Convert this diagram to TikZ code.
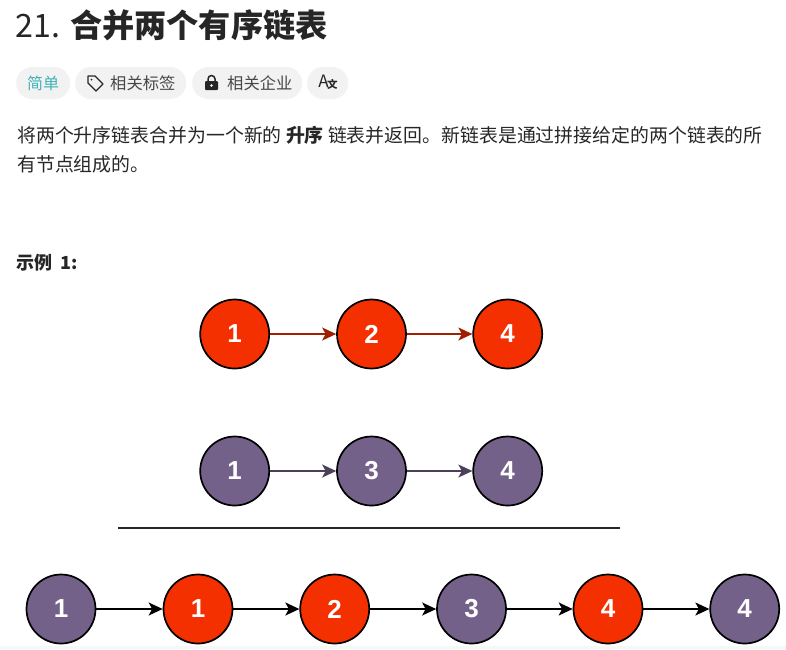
\documentclass[tikz,border=0pt]{standalone}
\usepackage{fontspec}
\setmainfont{Noto Sans CJK SC}
\newfontfamily\digitfont{Liberation Sans}
\usetikzlibrary{arrows.meta}
\definecolor{listred}{HTML}{F53000}
\definecolor{listpurple}{HTML}{74618A}
\definecolor{pillgray}{HTML}{F2F2F2}
\definecolor{inkdark}{HTML}{262626}
\definecolor{easyteal}{HTML}{3FB3B8}

\begin{document}
\begin{tikzpicture}[
    x=1pt,y=-1pt,
    listnode/.style={circle,draw=black,line width=1.7pt,minimum size=69pt,inner sep=0pt,text=white,font=\fontsize{26}{26}\selectfont\digitfont\bfseries},
    rednode/.style={listnode,fill=listred},
    purplenode/.style={listnode,fill=listpurple},
    link/.style={line width=1.4pt,-{Stealth[length=14pt,width=13pt,inset=3.5pt]}},
    pill/.style={fill=pillgray,rounded corners=15.9pt,minimum height=32pt,inner sep=0pt,anchor=west},
    pilltext/.style={anchor=west,inner sep=0pt,text=inkdark!85,font=\fontsize{16.3}{16.3}\selectfont},
    textline/.style={anchor=base west,inner sep=0pt,text=inkdark,font=\fontsize{18.9}{18.9}\selectfont}
]
\useasboundingbox (0,0) rectangle (786,649);

% Bottom strip
\fill[pillgray!60] (0,646) rectangle (786,649);

% Title
\node[anchor=base west,inner sep=0pt,text=inkdark,font=\fontsize{32.2}{32.2}\selectfont] (title) at (15.5,37) {21. \textbf{合并两个有序链表}};

% Tags
\node[pill,minimum width=54pt,text=easyteal,font=\fontsize{16}{16}\selectfont] (easy) at (16,83) {简单};
\node[pill,minimum width=111pt] (tags) at (75,83) {};
\node[pill,minimum width=110pt] (firms) at (192,83) {};
\node[pill,minimum width=41pt] (lang) at (307,83) {};
\node[pilltext] (tagstext) at (110,83.5) {相关标签};
\node[pilltext] (firmstext) at (227,83.5) {相关企业};
\node[anchor=center,inner sep=0pt,text=inkdark,font=\fontsize{17}{17}\selectfont] (langtext) at (328,82.5) {A\kern-1.5pt\raisebox{-1.5pt}{\fontsize{10.5}{10.5}\selectfont\bfseries 文}};

% Tag icon
\draw[line width=1.4pt,inkdark,line join=round] (88,76) -- (95,76) -- (103,84) -- (96,91) -- (88,83) -- cycle;
\fill[inkdark] (91.5,79.5) circle (1pt);

% Lock icon
\fill[inkdark,rounded corners=1pt] (205,81) rectangle (218,90);
\draw[line width=1.5pt,inkdark] (208,81) -- (208,79) arc[start angle=180,end angle=0,radius=3.5pt] -- (215,81);
\fill[white] (211.5,85.5) circle (1.3pt);

% Description
\node[textline] (desc1) at (17,142.5) {将两个升序链表合并为一个新的 \textbf{升序} 链表并返回。新链表是通过拼接给定的两个链表的所};
\node[textline] (desc2) at (17,171.5) {有节点组成的。};
\node[textline,font=\fontsize{18}{18}\selectfont\bfseries] (example) at (16,269) {示例\ \ 1:};

% First list
\node[rednode] (A1) at (234.7,334) {1};
\node[rednode] (A2) at (371.5,334) {2};
\node[rednode] (A3) at (507.7,334) {4};
\foreach \a/\b in {A1/A2,A2/A3}
    \draw[link,draw=listred!65!black,fill=listred!65!black] (\a) -- (\b);

% Second list
\node[purplenode] (B1) at (234.7,471) {1};
\node[purplenode] (B2) at (371.5,471) {3};
\node[purplenode] (B3) at (507.7,471) {4};
\foreach \a/\b in {B1/B2,B2/B3}
    \draw[link,draw=listpurple!65!black,fill=listpurple!65!black] (\a) -- (\b);

% Rule
\coordinate (ruleL) at (118,528);
\coordinate (ruleR) at (620,528);
\draw[line width=1.8pt,black!85] (ruleL) -- (ruleR);

% Merged list
\node[purplenode] (C1) at (61,609) {1};
\node[rednode] (C2) at (198,609) {1};
\node[rednode] (C3) at (334.7,609) {2};
\node[purplenode] (C4) at (471.5,609) {3};
\node[rednode] (C5) at (608,609) {4};
\node[purplenode] (C6) at (744.7,609) {4};
\foreach \a/\b in {C1/C2,C2/C3,C3/C4,C4/C5,C5/C6}
    \draw[link,draw=black,fill=black] (\a) -- (\b);

\end{tikzpicture}
\end{document}
